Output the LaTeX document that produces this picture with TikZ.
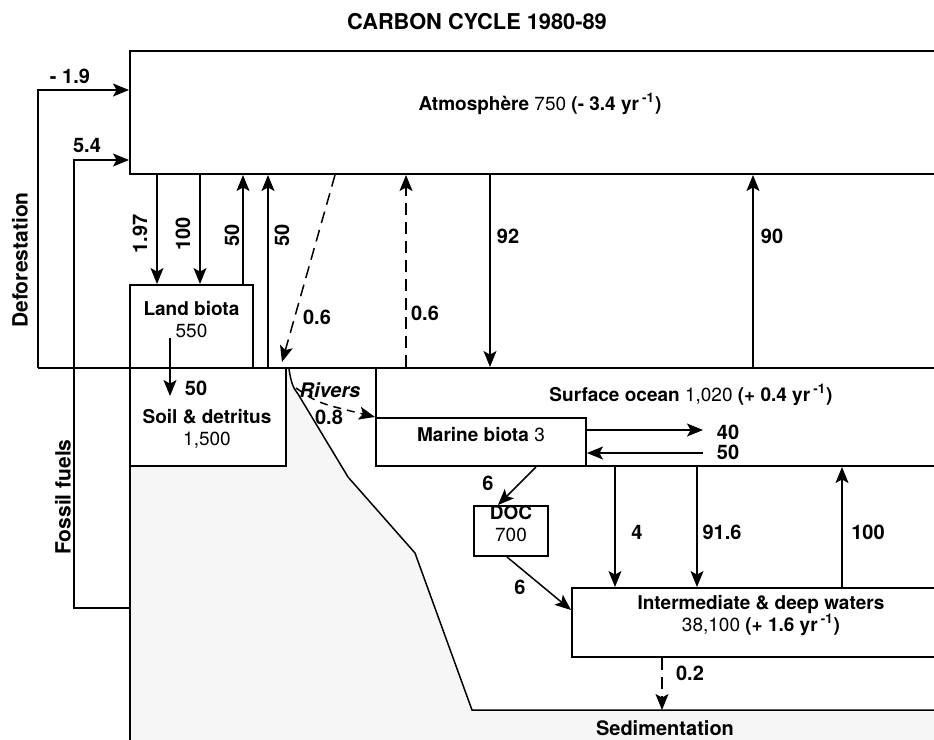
\documentclass[tikz,border=0pt]{standalone}
\usepackage{fontspec}
\setmainfont{TeX Gyre Heros}
\usetikzlibrary{arrows.meta,fit}
\tikzset{
  res/.style={draw,line width=1pt,inner sep=0pt,fill=white,align=center},
  flux/.style={line width=.75pt,-{Stealth[length=8pt,width=6.5pt,inset=1.8pt]}},
  dsh/.style={dash pattern=on 6pt off 3.5pt},
  lab/.style={font=\fontsize{10}{11}\selectfont\bfseries},
  side/.style={font=\fontsize{10.5}{12}\selectfont\bfseries,rotate=90},
}
\newcommand{\peryr}{yr\,\textsuperscript{-1}}
\begin{document}
\begin{tikzpicture}[x=.5pt,y=-.5pt,font=\fontsize{9.5}{11}\selectfont]
  \useasboundingbox (0,0) rectangle (934,740);
  \node[font=\fontsize{10.9}{12}\selectfont\bfseries] (title) at (477,22) {CARBON CYCLE 1980-89};
  % land and sea floor
  \fill[gray!7] (130,466) -- (286,466) -- (286,369) -- (289,369)
    .. controls (291,382) and (293,388) .. (298,394) -- (348,477) -- (415,553)
    -- (472,710) -- (950,710) -- (950,750) -- (130,750) -- cycle;
  \draw[line width=.75pt] (289,369) .. controls (291,382) and (293,388) .. (298,394)
    -- (348,477) -- (415,553) -- (472,710) -- (950,710);
  \draw[line width=1pt] (130,466) -- (130,750);
  % reservoirs
  \node[res,fit={(130,51) (950,174)}] (atm) {\textbf{Atmosphère} 750 \textbf{(- 3.4 \peryr)}};
  \node[res,fit={(130,285) (253,368)}] (lb) {\textbf{Land biota}\\550};
  \node[res,fit={(130,368) (286,466)}] (soil) {};
  \node[align=center] (soilt) at (207,429) {\textbf{Soil \& detritus}\\1,500};
  \node[res,fit={(376,368) (950,466)}] (surf) {};
  \node (surft) at (691,395) {\textbf{Surface ocean} 1,020 \textbf{(+ 0.4 \peryr)}};
  \node[res,fit={(376,418) (586,466)}] (mb) {\textbf{Marine biota} 3};
  \node[res,fit={(474,506) (548,556)}] (doc) {\textbf{DOC}\\700};
  \node[res,fit={(572,588) (950,657)}] (deep) {\textbf{Intermediate \& deep waters}\\38,100 \textbf{(+ 1.6 \peryr)}};
  \coordinate (gl) at (38,368);
  \coordinate (fos) at (130,608);
  \coordinate (sed) at (662,710);
  \draw[line width=1pt] (gl) -- (950,368);
  % human sources
  \draw[flux] (gl) -- (38,90) -- (atm.west |- 0,90);
  \draw[flux] (fos) -- (74,608) |- (atm.west |- 0,160);
  \node[lab] (fdef) at (70,76) {- 1.9};
  \node[lab] (ffos) at (87,145) {5.4};
  \node[side] (defot) at (20,260) {Deforestation};
  \node[side] (fost) at (63,497) {Fossil fuels};
  % atmosphere and land
  \foreach \x/\lx/\v in {157/140/1.97,200/183/100}{
    \draw[flux] (atm.south -| \x,0) -- (lb.north -| \x,0);
    \node[lab,rotate=90] (f\x) at (\lx,234) {\v};}
  \draw[flux] (lb.north -| 243,0) -- (atm.south -| 243,0);
  \draw[flux] (soil.north -| 268,0) -- (atm.south -| 268,0);
  \node[lab,rotate=90] (f243) at (232,235) {50};
  \node[lab,rotate=90] (f268) at (282,235) {50};
  \draw[flux,dsh] (atm.south -| 335,0) -- (282,362) coordinate (riv0);
  \node[lab] (f06a) at (317,317) {0.6};
  \coordinate (lbo) at (170,338);
  \coordinate (soili) at (170,396);
  \draw[flux] (lbo) -- (soili);
  \node[lab] (f50s) at (196,388) {50};
  % rivers
  \node[lab,font=\fontsize{10}{11}\selectfont\bfseries\itshape] (riv) at (330,390) {Rivers};
  \node[lab] (f08) at (329,417) {0.8};
  \draw[flux,dash pattern=on 4pt off 3pt] (296,388) .. controls (318,403) .. (surf.west |- 0,417);
  % atmosphere and ocean
  \draw[flux,dsh] (surf.north -| 406,0) -- (atm.south -| 406,0);
  \node[lab] (f06b) at (425,313) {0.6};
  \draw[flux] (atm.south -| 490,0) -- (surf.north -| 490,0);
  \node[lab] (f92) at (508,236) {92};
  \draw[flux] (surf.north -| 753,0) -- (atm.south -| 753,0);
  \node[lab] (f90) at (772,236) {90};
  % ocean
  \coordinate (o40) at (703,430);
  \coordinate (i50) at (703,453);
  \draw[flux] (mb.east |- o40) -- (o40);
  \draw[flux] (i50) -- (mb.east |- i50);
  \node[lab] (f40) at (728,432) {40};
  \node[lab] (f50) at (728,452) {50};
  \draw[flux] (mb.south -| 536,0) -- (doc.north -| 498,0);
  \node[lab] (f6a) at (488,483) {6};
  \draw[flux] (doc.south -| 507,0) -- (deep.west |- 0,610);
  \node[lab] (f6b) at (520,587) {6};
  \foreach \x/\lx/\v in {615/637/4,697/722/91.6}{
    \draw[flux] (surf.south -| \x,0) -- (deep.north -| \x,0);
    \node[lab] (f\x) at (\lx,532) {\v};}
  \draw[flux] (deep.north -| 842,0) -- (surf.south -| 842,0);
  \node[lab] (f100) at (868,532) {100};
  \draw[flux,dsh] (deep.south -| sed) -- (sed);
  \node[lab] (f02) at (690,673) {0.2};
  \node[lab] (sedt) at (665,728) {Sedimentation};
\end{tikzpicture}
\end{document}
